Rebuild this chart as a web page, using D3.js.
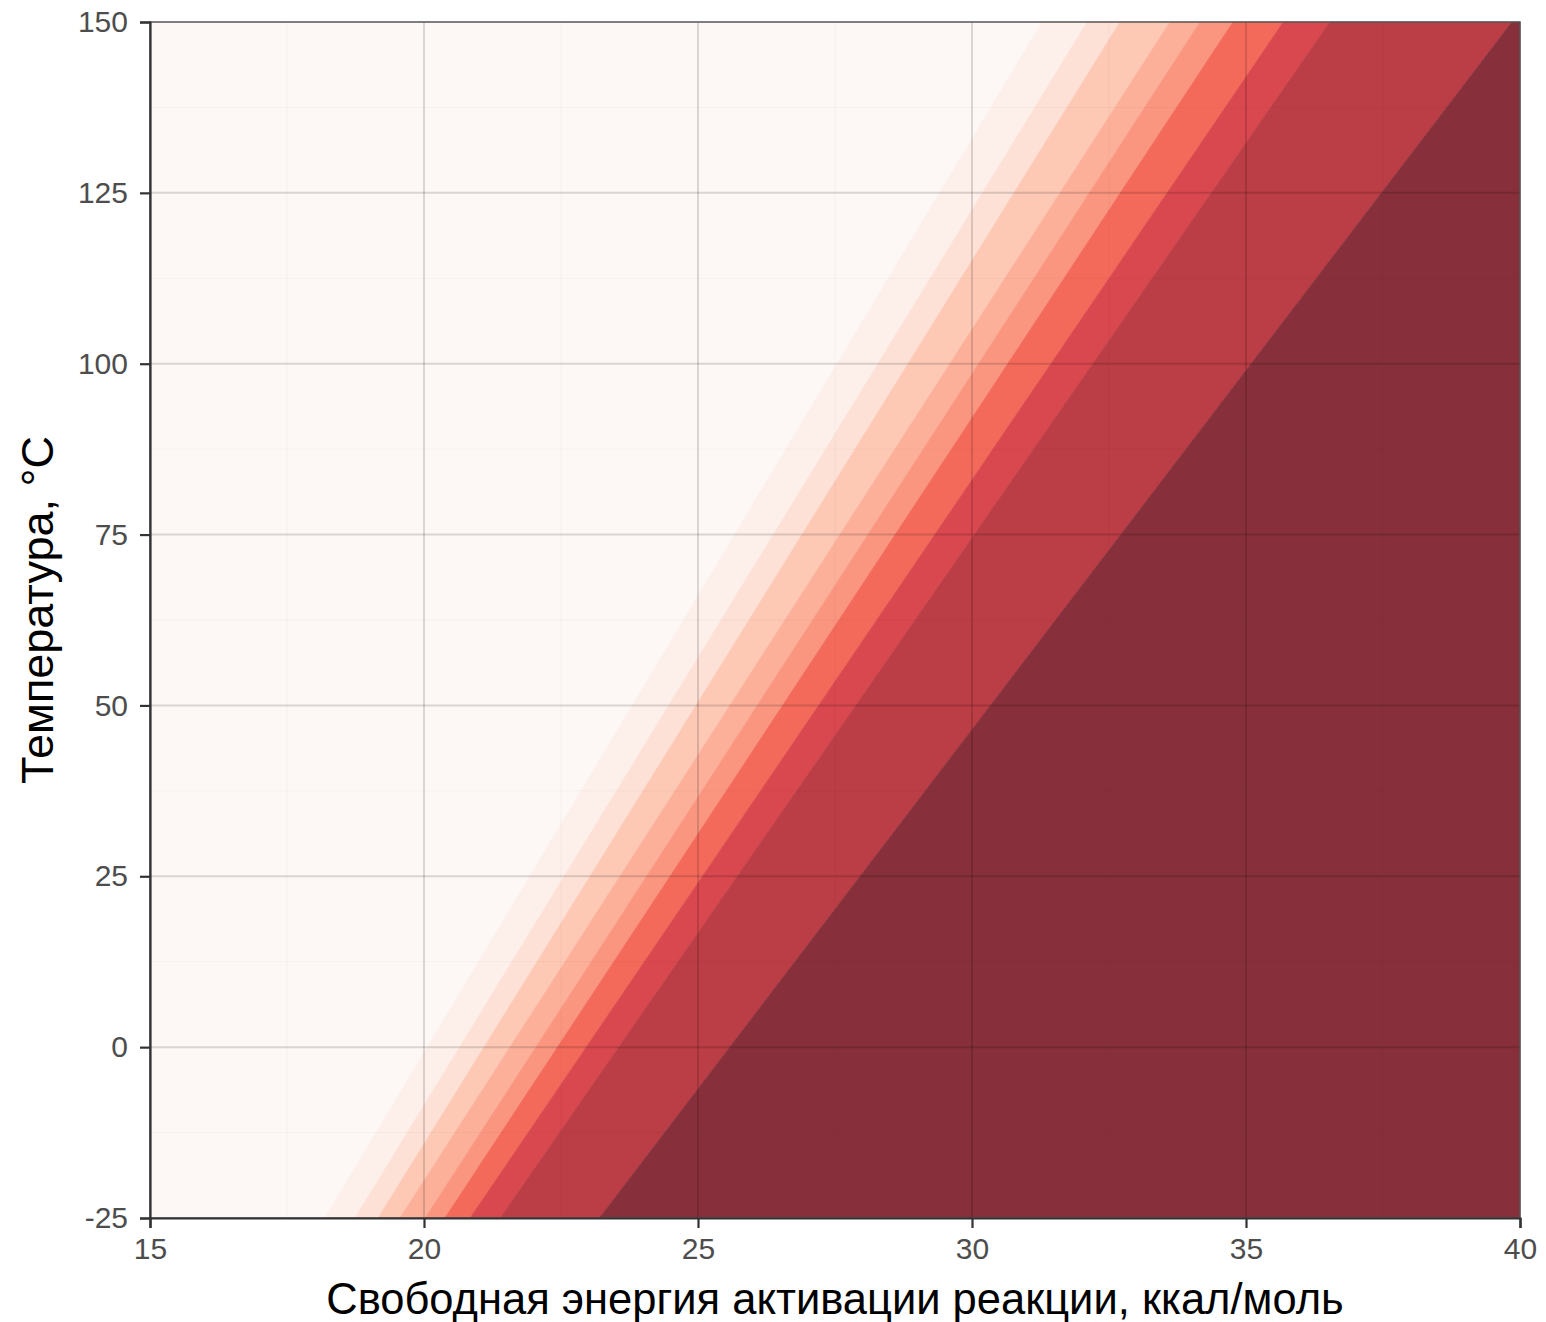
<!DOCTYPE html>
<html>
<head>
<meta charset="utf-8">
<script src="https://cdn.jsdelivr.net/npm/d3@7"></script>
<style>
  body { margin: 0; background: #fff; }
  text { font-family: "Liberation Sans", Arial, sans-serif; }
</style>
</head>
<body>
<svg id="chart" width="1546" height="1322"></svg>
<script>
// axis ranges and ticks
var xDomain = [15, 40];
var yDomain = [-25, 150];
var xTicks = [15, 20, 25, 30, 35, 40];
var yTicks = [-25, 0, 25, 50, 75, 100, 125, 150];

// band boundaries: free energy (kcal/mol) where each contour meets T = -25 and T = 150
var edgeAtLow  = [18.19, 18.74, 19.16, 19.56, 20.02, 20.38, 20.84, 21.39, 23.20];
var edgeAtHigh = [31.28, 32.10, 32.70, 33.61, 34.16, 34.76, 35.68, 36.53, 39.85];

// fill colours, lightest to darkest (one more than boundaries)
var bandColors = ["#fdf8f6", "#fdefea", "#fde1d6", "#fdc9b5", "#fcb09a",
                  "#fa9680", "#f36a5b", "#d9484e", "#bb3d45", "#87303b"];

var xLabel = "Свободная энергия активации реакции, ккал/моль";
var yLabel = "Температура, °C";

var margin = {top: 22, right: 26, bottom: 104, left: 150};
var width = 1546 - margin.left - margin.right,
    height = 1322 - margin.top - margin.bottom;

var svg = d3.select("#chart");
var g = svg.append("g")
    .attr("transform", "translate(" + margin.left + "," + margin.top + ")");

var x = d3.scaleLinear().domain(xDomain).range([0, width]);
var y = d3.scaleLinear().domain(yDomain).range([height, 0]);

// bands: each one lies between the previous boundary and the next
var bands = bandColors.map(function(c, i) {
    var lo0 = i == 0 ? xDomain[0] : edgeAtLow[i - 1],
        hi0 = i == 0 ? xDomain[0] : edgeAtHigh[i - 1],
        lo1 = i == bandColors.length - 1 ? xDomain[1] : edgeAtLow[i],
        hi1 = i == bandColors.length - 1 ? xDomain[1] : edgeAtHigh[i];
    return {color: c, pts: [[lo0, yDomain[0]], [lo1, yDomain[0]], [hi1, yDomain[1]], [hi0, yDomain[1]]]};
});

var line = d3.line()
    .x(function(d) { return x(d[0]); })
    .y(function(d) { return y(d[1]); });

g.selectAll(".band")
    .data(bands)
    .enter().append("path")
    .attr("class", "band")
    .attr("d", function(d) { return line(d.pts) + "Z"; })
    .attr("fill", function(d) { return d.color; })
    .attr("stroke", function(d) { return d.color; })
    .attr("stroke-width", 0.6);

// grid on top, translucent so it darkens whatever is below
var minorX = d3.range(xDomain[0] + 2.5, xDomain[1], 5);
var minorY = d3.range(yDomain[0] + 12.5, yDomain[1], 25);

g.selectAll(".minor-x").data(minorX).enter().append("line")
    .attr("x1", x).attr("x2", x).attr("y1", 0).attr("y2", height)
    .attr("stroke", "rgba(0,0,0,0.03)").attr("stroke-width", 1);
g.selectAll(".minor-y").data(minorY).enter().append("line")
    .attr("y1", y).attr("y2", y).attr("x1", 0).attr("x2", width)
    .attr("stroke", "rgba(0,0,0,0.03)").attr("stroke-width", 1);

g.selectAll(".grid-x").data(xTicks.slice(1, -1)).enter().append("line")
    .attr("x1", x).attr("x2", x).attr("y1", 0).attr("y2", height)
    .attr("stroke", "rgba(0,0,0,0.14)").attr("stroke-width", 2);
g.selectAll(".grid-y").data(yTicks.slice(1, -1)).enter().append("line")
    .attr("y1", y).attr("y2", y).attr("x1", 0).attr("x2", width)
    .attr("stroke", "rgba(0,0,0,0.14)").attr("stroke-width", 2);

// panel border
g.append("rect")
    .attr("width", width).attr("height", height)
    .attr("fill", "none").attr("stroke", "#555").attr("stroke-width", 1.5);

// axes (plain hyphen for negatives, like the original)
var fmt = function(d) { return String(d); };
var xAxis = d3.axisBottom(x).tickValues(xTicks).tickFormat(fmt).tickSize(10).tickPadding(10);
var yAxis = d3.axisLeft(y).tickValues(yTicks).tickFormat(fmt).tickSize(10).tickPadding(12);

var gx = g.append("g").attr("transform", "translate(0," + height + ")").call(xAxis);
var gy = g.append("g").call(yAxis);

[gx, gy].forEach(function(a) {
    a.select(".domain").attr("stroke", "#333").attr("stroke-width", 2.2);
    a.selectAll(".tick line").attr("stroke", "#333").attr("stroke-width", 2.2);
    a.selectAll(".tick text")
        .attr("fill", "#4d4d4d")
        .style("font-size", "30px")
        .style("font-family", "'Liberation Sans', Arial, sans-serif");
});

// titles
svg.append("text")
    .attr("x", margin.left + width / 2)
    .attr("y", 1314)
    .attr("text-anchor", "middle")
    .style("font-size", "43.5px")
    .attr("fill", "#000")
    .text(xLabel);

svg.append("text")
    .attr("transform", "translate(53,610) rotate(-90)")
    .attr("text-anchor", "middle")
    .style("font-size", "45px")
    .attr("fill", "#000")
    .text(yLabel);
</script>
</body>
</html>
